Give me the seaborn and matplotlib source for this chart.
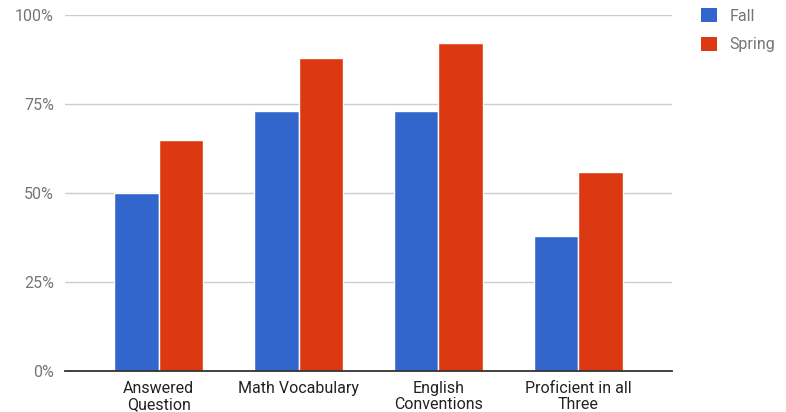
import matplotlib
matplotlib.use("Agg")
import matplotlib.pyplot as plt
import pandas as pd
import seaborn as sns
from matplotlib.patches import Patch
from matplotlib.ticker import FuncFormatter

categories = ["Answered\nQuestion", "Math Vocabulary", "English\nConventions", "Proficient in all\nThree"]
fall = [50, 73, 73, 38]
spring = [65, 88, 92, 56]
series = ["Fall", "Spring"]
colors = ["#3366CC", "#DC3912"]

df = pd.DataFrame({
    "category": categories * 2,
    "value": fall + spring,
    "season": ["Fall"] * 4 + ["Spring"] * 4,
})

sns.set_theme(style="white")
plt.rcParams["font.family"] = ["Roboto", "DejaVu Sans"]

fig = plt.figure(figsize=(7.86, 4.12), dpi=100)
ax = fig.add_axes([0.0827, 0.0995, 0.855 - 0.0827, 0.9636 - 0.0995])

sns.barplot(data=df, x="category", y="value", hue="season", palette=colors,
            saturation=1, width=0.64, ax=ax, edgecolor="white", linewidth=1.0,
            legend=False)

ax.set_xlim(-0.67, 3.67)
ax.set_ylim(0, 100)
ax.set_yticks([0, 25, 50, 75, 100])
ax.yaxis.set_major_formatter(FuncFormatter(lambda v, _: f"{int(v)}%"))
ax.grid(axis="y", color="#cccccc", linewidth=1)
ax.set_axisbelow(True)
ax.set_xlabel("")
ax.set_ylabel("")
for s in ["top", "right", "left"]:
    ax.spines[s].set_visible(False)
ax.spines["bottom"].set_color("#333333")
ax.spines["bottom"].set_linewidth(1.3)
ax.tick_params(axis="y", length=0, labelsize=11.5, labelcolor="#757575", pad=8)
ax.tick_params(axis="x", length=0, labelsize=11.5, labelcolor="#222222", pad=7)
for lbl in ax.get_xticklabels():
    lbl.set_linespacing(1.1)

handles = [Patch(facecolor=c, edgecolor="none") for c in colors]
fig.legend(handles, series, loc="upper left", bbox_to_anchor=(0.873, 1.015),
           frameon=False, fontsize=11.5, labelcolor="#757575",
           handlelength=1.0, handleheight=1.0, handletextpad=0.8, labelspacing=0.8)

fig.savefig("out.png", dpi=100)
